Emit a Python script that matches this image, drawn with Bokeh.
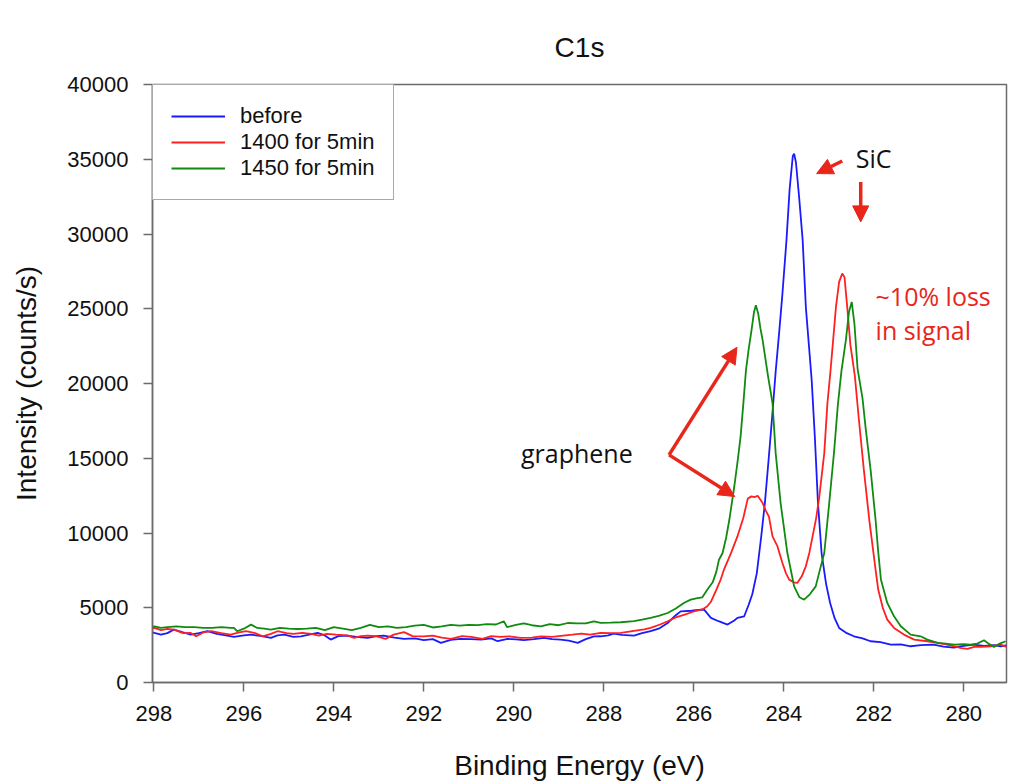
from bokeh.plotting import figure
from bokeh.models import Range1d, FixedTicker, Legend, LegendItem, Arrow, NormalHead, Label, Title
from bokeh.embed import file_html
from bokeh.resources import INLINE

# C1s core-level spectra: binding energy (eV) vs intensity (counts/s)
energy_before = [
    298.03, 297.99, 297.84, 297.7, 297.55, 297.35, 297.18, 297.0, 296.81, 296.6,
    296.4, 296.22, 296.0, 295.84, 295.6, 295.4, 295.25, 295.1, 294.9, 294.73,
    294.55, 294.36, 294.2, 294.07, 293.9, 293.7, 293.5, 293.25, 293.05, 292.89,
    292.65, 292.44, 292.2, 292.0, 291.8, 291.62, 291.4, 291.18, 290.95, 290.73,
    290.5, 290.36, 290.14, 289.95, 289.78, 289.55, 289.33, 289.15, 288.96, 288.78,
    288.58, 288.4, 288.22, 288.07, 287.9, 287.78, 287.6, 287.33, 287.15, 286.96,
    286.78, 286.58, 286.4, 286.29, 286.05, 285.9, 285.77, 285.62, 285.45, 285.25,
    285.1, 285.03, 284.88, 284.78, 284.7, 284.6, 284.5, 284.42, 284.34, 284.26,
    284.18, 284.1, 284.03, 283.94, 283.87, 283.8, 283.77, 283.73, 283.66, 283.58,
    283.51, 283.44, 283.38, 283.31, 283.24, 283.16, 283.06, 282.97, 282.87, 282.77,
    282.6, 282.44, 282.25, 282.07, 281.85, 281.62, 281.4, 281.18, 280.95, 280.67,
    280.45, 280.22, 280.0, 279.78, 279.55, 279.33, 279.18, 279.05,
]
counts_before = [
    3350, 3317, 3200, 3300, 3540, 3350, 3200, 3300, 3430, 3250,
    3150, 3050, 3150, 3200, 3100, 2980, 3150, 3200, 3050, 3090,
    3200, 3317, 3150, 2870, 3100, 3140, 3050, 2980, 3100, 3140,
    3000, 2920, 2950, 2830, 2900, 2650, 2850, 2920, 2900, 2870,
    2950, 2760, 2920, 2880, 2830, 2900, 2980, 2900, 2870, 2800,
    2650, 2900, 3090, 3092, 3150, 3270, 3180, 3140, 3300, 3430,
    3600, 3980, 4500, 4760, 4800, 4850, 4875, 4320, 4100, 3873,
    4150, 4320, 4430, 5200, 5900, 7300, 9800, 12000, 14800, 17700,
    20800, 23500, 26000, 29580, 33000, 35200, 35370, 34800, 32500, 29580,
    25130, 22500, 20235, 16450, 12000, 8660, 6600, 5320, 4300, 3653,
    3300, 3092, 2950, 2758, 2700, 2538, 2550, 2424, 2500, 2538,
    2400, 2337, 2450, 2538, 2450, 2500, 2424, 2480,
]

energy_1400 = [
    298.03, 297.99, 297.84, 297.7, 297.55, 297.35, 297.18, 297.06, 296.9, 296.72,
    296.5, 296.3, 296.1, 295.95, 295.75, 295.58, 295.4, 295.25, 295.05, 294.9,
    294.7, 294.5, 294.33, 294.15, 293.95, 293.7, 293.55, 293.4, 293.25, 293.07,
    292.85, 292.67, 292.44, 292.25, 292.0, 291.8, 291.6, 291.4, 291.15, 290.95,
    290.7, 290.5, 290.3, 290.1, 289.85, 289.6, 289.4, 289.15, 288.9, 288.7,
    288.5, 288.3, 288.07, 287.85, 287.62, 287.33, 287.1, 286.96, 286.75, 286.58,
    286.4, 286.22, 286.0, 285.8, 285.7, 285.62, 285.5, 285.4, 285.33, 285.18,
    285.03, 284.9, 284.8, 284.72, 284.65, 284.58, 284.47, 284.4, 284.33, 284.25,
    284.14, 284.03, 283.95, 283.88, 283.78, 283.7, 283.6, 283.51, 283.43, 283.36,
    283.28, 283.21, 283.1, 283.03, 282.96, 282.9, 282.84, 282.77, 282.7, 282.65,
    282.59, 282.52, 282.42, 282.33, 282.22, 282.1, 281.96, 281.9, 281.8, 281.7,
    281.55, 281.33, 281.1, 280.81, 280.58, 280.4, 280.21, 280.05, 279.92, 279.75,
    279.62, 279.4, 279.18, 279.05,
]
counts_1400 = [
    3600, 3650, 3500, 3580, 3540, 3300, 3317, 3090, 3350, 3430,
    3300, 3200, 3350, 3430, 3300, 3090, 3250, 3430, 3300, 3250,
    3317, 3250, 3140, 3250, 3200, 3150, 2980, 3100, 3140, 3100,
    2920, 3200, 3370, 3100, 3090, 3140, 3000, 2920, 3100, 3050,
    2920, 3100, 3050, 3090, 2980, 3000, 3090, 3050, 3140, 3200,
    3270, 3200, 3317, 3300, 3317, 3450, 3550, 3650, 3880, 4100,
    4350, 4530, 4750, 4900, 5100, 5400, 6200, 6900, 7546, 8600,
    9770, 11000, 12300, 12450, 12400, 12490, 12000, 11500, 11100, 9770,
    9100, 7990, 7300, 6880, 6700, 6660, 7100, 7770, 8700, 9770,
    11000, 12440, 15340, 18680, 20900, 23000, 25130, 26800, 27360, 27100,
    25130, 22600, 20500, 17560, 14220, 10885, 7546, 6200, 5000, 4207,
    3650, 3205, 2870, 2760, 2650, 2550, 2424, 2300, 2250, 2400,
    2380, 2424, 2538, 2380,
]

energy_1450 = [
    298.03, 297.99, 297.84, 297.7, 297.5, 297.3, 297.1, 296.9, 296.7, 296.5,
    296.3, 296.22, 296.15, 296.0, 295.84, 295.7, 295.55, 295.4, 295.2, 295.0,
    294.8, 294.6, 294.4, 294.2, 294.0, 293.8, 293.6, 293.4, 293.2, 293.0,
    292.8, 292.6, 292.4, 292.2, 292.0, 291.8, 291.6, 291.4, 291.2, 291.0,
    290.8, 290.6, 290.4, 290.22, 290.15, 289.95, 289.78, 289.6, 289.4, 289.2,
    289.0, 288.8, 288.6, 288.4, 288.22, 288.07, 287.85, 287.62, 287.33, 287.15,
    286.96, 286.78, 286.58, 286.4, 286.22, 286.07, 285.92, 285.81, 285.7, 285.58,
    285.5, 285.44, 285.36, 285.28, 285.21, 285.1, 285.03, 284.96, 284.9, 284.84,
    284.78, 284.72, 284.66, 284.62, 284.57, 284.52, 284.47, 284.35, 284.25, 284.18,
    284.07, 283.92, 283.77, 283.65, 283.55, 283.42, 283.29, 283.2, 283.1, 282.99,
    282.88, 282.8, 282.72, 282.62, 282.55, 282.49, 282.43, 282.36, 282.25, 282.18,
    282.07, 281.96, 281.9, 281.84, 281.7, 281.55, 281.4, 281.18, 280.96, 280.81,
    280.58, 280.4, 280.21, 280.0, 279.85, 279.7, 279.55, 279.45, 279.33, 279.2,
    279.07,
]
counts_1450 = [
    3700, 3760, 3650, 3700, 3760, 3700, 3700, 3650, 3650, 3700,
    3650, 3650, 3430, 3600, 3870, 3650, 3600, 3540, 3650, 3600,
    3580, 3600, 3650, 3500, 3700, 3600, 3500, 3650, 3860, 3700,
    3760, 3650, 3700, 3800, 3860, 3680, 3760, 3860, 3800, 3860,
    3840, 3900, 3880, 4090, 3700, 3860, 3950, 3830, 3760, 3900,
    3830, 3980, 3950, 3950, 4090, 3987, 4000, 4030, 4100, 4200,
    4320, 4450, 4650, 4950, 5320, 5540, 5650, 5700, 6210, 6700,
    7400, 8210, 8660, 9700, 10885, 13110, 14700, 16450, 18600, 20900,
    22300, 23500, 24800, 25240, 24700, 23700, 22900, 20500, 18680, 15340,
    12000, 8660, 6430, 5700, 5540, 5900, 6430, 7500, 8660, 12000,
    15500, 18500, 20800, 22900, 24800, 25460, 24000, 21000, 19000, 17000,
    14220, 10885, 8700, 6880, 5320, 4430, 3760, 3205, 3090, 2870,
    2650, 2600, 2540, 2560, 2540, 2600, 2830, 2600, 2380, 2600,
    2760,
]

series_labels = ["before", "1400 for 5min", "1450 for 5min"]
series_colors = ["#1a1aff", "#ff2020", "#118a11"]

x_ticks = [298, 296, 294, 292, 290, 288, 286, 284, 282, 280]
y_ticks = [0, 5000, 10000, 15000, 20000, 25000, 30000, 35000, 40000]

AXIS_FONT = "Liberation Sans"
NOTE_FONT = "Open Sans"
NOTE_RED = "#e8261a"
AXIS_GRAY = "#6b6b6b"

p = figure(
    width=1015, height=783,
    x_range=Range1d(298.03, 279.05),
    y_range=Range1d(0, 40000),
    output_backend="svg", toolbar_location=None,
    min_border_left=152, min_border_right=9,
    min_border_top=84, min_border_bottom=100,
    background_fill_color="white", border_fill_color="white",
)

# blank spacer line between the title and the frame
p.add_layout(Title(text=" ", text_font_size="4px"), "above")

p.title.text = "C1s"
p.title.align = "center"
p.title.text_font = AXIS_FONT
p.title.text_font_size = "28px"
p.title.text_font_style = "normal"
p.title.text_color = "#111111"

p.xgrid.visible = False
p.ygrid.visible = False
p.outline_line_color = AXIS_GRAY
p.outline_line_width = 1.5

for ax in (p.xaxis[0], p.yaxis[0]):
    ax.axis_line_color = AXIS_GRAY
    ax.axis_line_width = 1.5
    ax.major_tick_line_color = AXIS_GRAY
    ax.major_tick_line_width = 1.5
    ax.major_tick_out = 9
    ax.major_tick_in = 0
    ax.minor_tick_out = 0
    ax.minor_tick_in = 0
    ax.major_label_text_font = AXIS_FONT
    ax.major_label_text_font_size = "22px"
    ax.major_label_text_color = "#111111"
    ax.axis_label_text_font = AXIS_FONT
    ax.axis_label_text_font_size = "28px"
    ax.axis_label_text_font_style = "normal"
    ax.axis_label_text_color = "#111111"

p.xaxis.ticker = FixedTicker(ticks=x_ticks)
p.yaxis.ticker = FixedTicker(ticks=y_ticks)
p.xaxis.axis_label = "Binding Energy (eV)"
p.yaxis.axis_label = "Intensity (counts/s)"
p.xaxis.major_label_standoff = 14
p.xaxis.axis_label_standoff = 26
p.yaxis.major_label_standoff = 15
p.yaxis.axis_label_standoff = 22

renderers = []
for xs, ys, color in zip(
    [energy_before, energy_1400, energy_1450],
    [counts_before, counts_1400, counts_1450],
    series_colors,
):
    renderers.append(p.line(xs, ys, line_color=color, line_width=1.8))

legend = Legend(
    items=[LegendItem(label=lab, renderers=[r]) for lab, r in zip(series_labels, renderers)],
    location="top_left",
    margin=0, padding=18, spacing=0,
    glyph_width=54, glyph_height=20, label_standoff=15,
    label_text_font=AXIS_FONT, label_text_font_size="22px", label_text_color="#111111",
    border_line_color="#555555", border_line_width=1.5,
    background_fill_color="white", background_fill_alpha=1.0,
)
p.add_layout(legend)

# annotations
p.add_layout(Label(x=282.4, y=35060, text="SiC", text_font=NOTE_FONT, text_font_size="25px",
                   text_color="#111111", text_baseline="middle"))
p.add_layout(Label(x=289.84, y=15360, text="graphene", text_font=NOTE_FONT, text_font_size="25px",
                   text_color="#111111", text_baseline="middle"))
p.add_layout(Label(x=281.96, y=25840, text="~10% loss", text_font=NOTE_FONT, text_font_size="25px",
                   text_color=NOTE_RED, text_baseline="middle"))
p.add_layout(Label(x=281.96, y=23570, text="in signal", text_font=NOTE_FONT, text_font_size="25px",
                   text_color=NOTE_RED, text_baseline="middle"))

arrow_specs = [
    (282.7, 34880, 283.27, 34040),    # toward the SiC peak
    (282.29, 33480, 282.29, 30810),   # downward: SiC signal drop
    (286.55, 15226, 285.04, 22420),   # graphene peak after 1450
    (286.55, 15226, 285.09, 12440),   # graphene peak after 1400
]
for xs_, ys_, xe_, ye_ in arrow_specs:
    p.add_layout(Arrow(
        end=NormalHead(size=16, fill_color=NOTE_RED, line_color=NOTE_RED),
        x_start=xs_, y_start=ys_, x_end=xe_, y_end=ye_,
        line_color=NOTE_RED, line_width=3.5,
    ))

open("out.html", "w").write(file_html(p, INLINE))
